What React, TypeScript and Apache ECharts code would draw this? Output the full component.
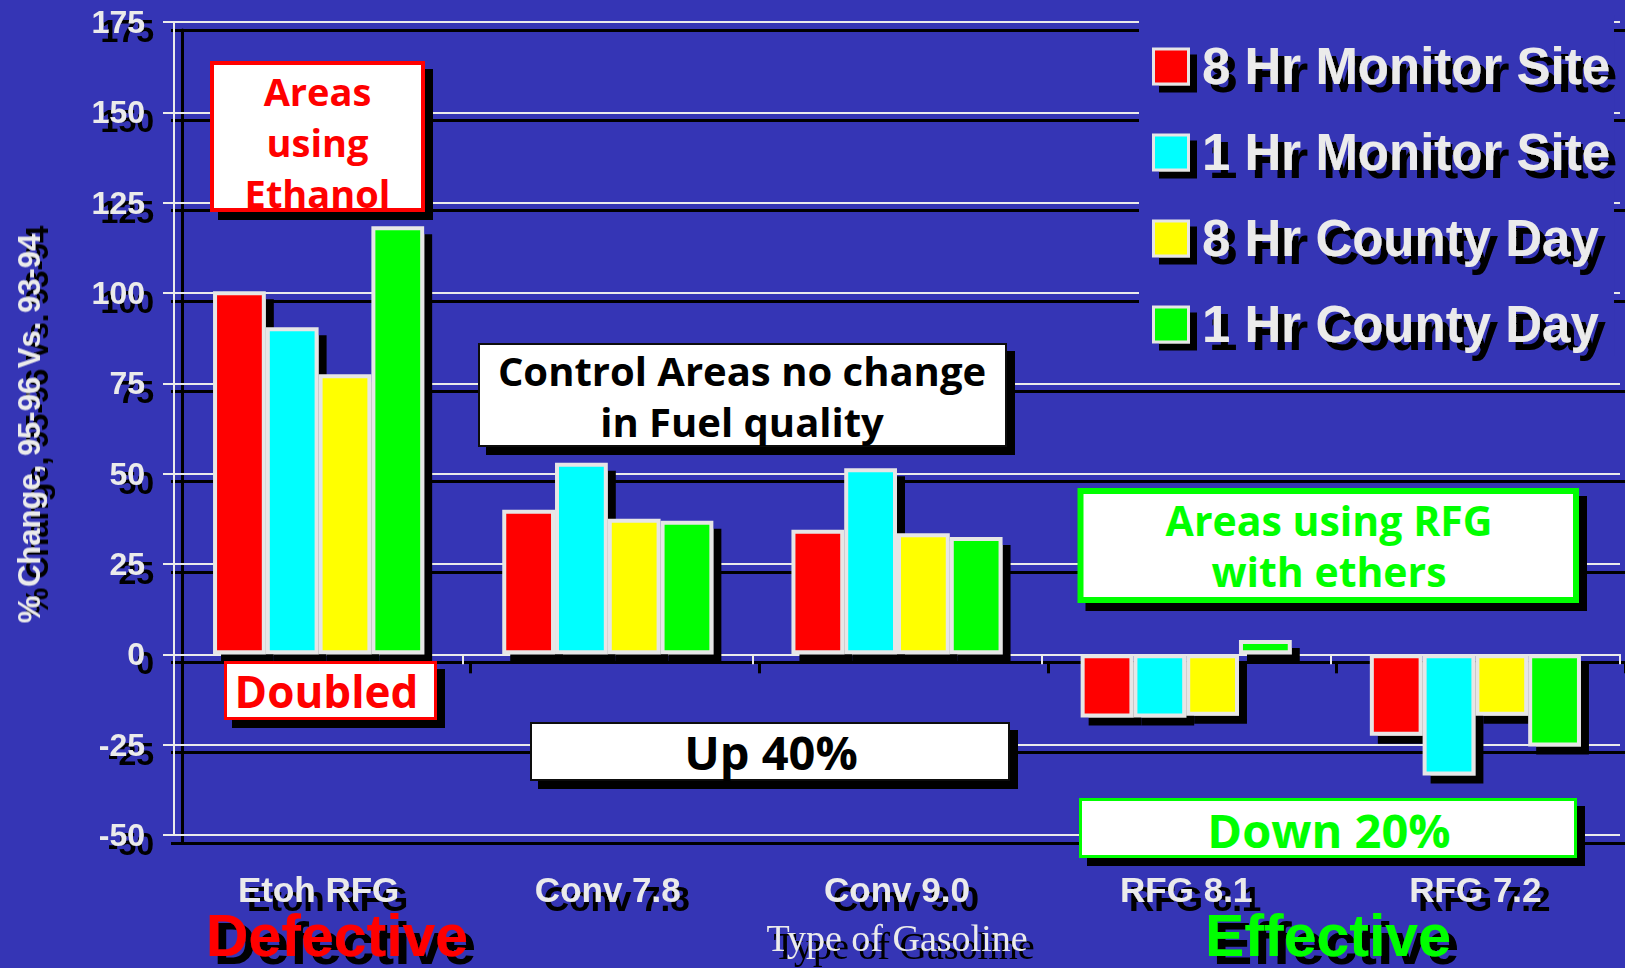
import React, { useEffect, useRef } from 'react';
import * as echarts from 'echarts';

// ---------- data ----------
const categories = ['Etoh RFG', 'Conv 7.8', 'Conv 9.0', 'RFG 8.1', 'RFG 7.2'];
const seriesNames = ['8 Hr Monitor Site', '1 Hr Monitor Site', '8 Hr County Day', '1 Hr County Day'];
const monitor8Hr = [100.5, 40, 34.5, -17.5, -22.5];
const monitor1Hr = [90.5, 53, 51.5, -17.5, -33.5];
const county8Hr = [77.5, 37.5, 33.5, -17, -17];
const county1Hr = [118.5, 37, 32.5, 4, -25.5];
const seriesColors = ['#FF0000', '#00FFFF', '#FFFF00', '#00FF00'];
const yMin = -50;
const yMax = 175;
const yStep = 25;
const yAxisTitle = '% Change, 95-96 Vs. 93-94';
const xAxisTitle = 'Type of Gasoline';

// ---------- style ----------
const BG = '#3535B5';
const LIGHT = '#EBEBEB';
const SANS = '"Liberation Sans", Arial, sans-serif';
const SERIF = '"Liberation Serif", "Times New Roman", serif';
const BOXFONT = '"Open Sans", "Liberation Sans", sans-serif';
const GRID = { left: 174, top: 22, width: 1446, height: 813 };
const SH = 8;

const textShadow = (dx: number, dy: number) => ({
  textShadowColor: '#000',
  textShadowBlur: 0.1,
  textShadowOffsetX: dx,
  textShadowOffsetY: dy,
});

function boxRect(x0: number, y0: number, x1: number, y1: number, stroke: string, lw: number) {
  return {
    type: 'rect',
    z: 100,
    shape: { x: x0 + lw / 2, y: y0 + lw / 2, width: x1 - x0 - lw, height: y1 - y0 - lw },
    style: {
      fill: '#FFFFFF',
      stroke,
      lineWidth: lw,
      shadowColor: '#000',
      shadowBlur: 0,
      shadowOffsetX: SH,
      shadowOffsetY: SH,
    },
    silent: true,
  };
}

function boxText(text: string, cx: number, cy: number, size: number, color: string, lineHeight: number) {
  return {
    type: 'text',
    z: 101,
    x: cx,
    y: cy,
    silent: true,
    style: {
      text,
      fill: color,
      fontSize: size,
      fontWeight: 'bold',
      fontFamily: BOXFONT,
      align: 'center',
      verticalAlign: 'middle',
      lineHeight,
    },
  };
}

function bigText(text: string, cx: number, cy: number, color: string) {
  return {
    type: 'text',
    z: 101,
    x: cx,
    y: cy,
    silent: true,
    style: {
      text,
      fill: color,
      fontSize: 59,
      fontWeight: 'bold',
      fontFamily: SANS,
      align: 'center',
      verticalAlign: 'middle',
      ...textShadow(8, 8),
    },
  };
}

const seriesData = [monitor8Hr, monitor1Hr, county8Hr, county1Hr];

export default function App() {
  const ref = useRef<HTMLDivElement>(null);
  useEffect(() => {
    document.body.style.margin = '0';
    document.body.style.background = BG;
    const chart = echarts.init(ref.current as HTMLDivElement, null, { renderer: 'svg' });
    const option: any = {
      animation: false,
      backgroundColor: BG,
      grid: [
        { ...GRID },
        { left: GRID.left + SH, top: GRID.top + SH, width: GRID.width, height: GRID.height },
      ],
      legend: {
        orient: 'vertical',
        left: 1139,
        top: 15,
        padding: [26, 4, 6, 13],
        backgroundColor: BG,
        itemWidth: 52,
        itemHeight: 35,
        itemGap: 35,
        icon: 'path://M0,0H10V10H0Z',
        selectedMode: false,
        data: seriesNames,
        itemStyle: {
          borderColor: '#E6E6E6',
          borderWidth: 3,
          shadowColor: '#000',
          shadowBlur: 0,
          shadowOffsetX: 7,
          shadowOffsetY: 7,
        },
        textStyle: {
          color: LIGHT,
          fontSize: 51,
          fontWeight: 'bold',
          fontFamily: SANS,
          lineHeight: 50,
          ...textShadow(7, 8),
        },
      },
      xAxis: [
        {
          type: 'category',
          gridIndex: 0,
          data: categories,
          position: 'bottom',
          z: 1,
          axisLine: { show: true, onZero: true, lineStyle: { color: LIGHT, width: 2 } },
          axisTick: { show: true, length: 10, lineStyle: { color: LIGHT, width: 2 } },
          axisLabel: { show: false },
          splitLine: { show: false },
        },
        {
          type: 'category',
          gridIndex: 0,
          data: categories,
          position: 'bottom',
          z: 1,
          axisLine: { show: false, onZero: false },
          axisTick: { show: false },
          splitLine: { show: false },
          axisLabel: {
            color: LIGHT,
            fontSize: 35,
            fontWeight: 'bold',
            fontFamily: SANS,
            margin: 37,
            ...textShadow(9, 9),
          },
          name: xAxisTitle,
          nameLocation: 'middle',
          nameGap: 84,
          nameTextStyle: {
            color: LIGHT,
            fontSize: 38,
            fontFamily: SERIF,
            ...textShadow(7, 8),
          },
        },
        {
          type: 'category',
          gridIndex: 1,
          data: categories,
          position: 'bottom',
          z: 0,
          axisLine: { show: true, onZero: true, lineStyle: { color: '#000', width: 3 } },
          axisTick: { show: true, length: 11, lineStyle: { color: '#000', width: 3 } },
          axisLabel: { show: false },
          splitLine: { show: false },
        },
      ],
      yAxis: [
        {
          type: 'value',
          gridIndex: 0,
          min: yMin,
          max: yMax,
          interval: yStep,
          z: 1,
          axisLine: { show: true, lineStyle: { color: LIGHT, width: 2 } },
          axisTick: { show: true, length: 11, lineStyle: { color: LIGHT, width: 2 } },
          splitLine: { show: true, lineStyle: { color: LIGHT, width: 2 } },
          axisLabel: {
            color: LIGHT,
            fontSize: 32,
            fontWeight: 'bold',
            fontFamily: SANS,
            margin: 29,
            ...textShadow(9, 9),
          },
          name: yAxisTitle,
          nameLocation: 'middle',
          nameRotate: 90,
          nameGap: 129,
          nameTextStyle: {
            color: LIGHT,
            fontSize: 31,
            fontWeight: 'bold',
            fontFamily: SANS,
            ...textShadow(8, 8),
          },
        },
        {
          type: 'value',
          gridIndex: 1,
          min: yMin,
          max: yMax,
          interval: yStep,
          z: 0,
          axisLine: { show: true, lineStyle: { color: '#000', width: 3 } },
          axisTick: { show: true, length: 11, lineStyle: { color: '#000', width: 3 } },
          splitLine: { show: true, lineStyle: { color: '#000', width: 3 } },
          axisLabel: { show: false },
        },
      ],
      series: seriesNames.map((name, i) => ({
        name,
        type: 'bar',
        xAxisIndex: 0,
        yAxisIndex: 0,
        data: seriesData[i],
        barGap: '0%',
        barCategoryGap: '27%',
        silent: true,
        emphasis: { disabled: true },
        itemStyle: {
          color: seriesColors[i],
          borderColor: '#E6E6E6',
          borderWidth: 4,
          shadowColor: '#000',
          shadowBlur: 0,
          shadowOffsetX: SH,
          shadowOffsetY: SH,
        },
      })),
      graphic: [
        boxRect(210, 61, 425, 212, '#FF0000', 4),
        boxText('Areas\nusing\nEthanol', 317.5, 141.5, 38, '#FF0000', 51),
        boxRect(224, 661, 437, 720, '#FF0000', 3),
        boxText('Doubled', 326.5, 690.5, 44, '#FF0000', 50),
        boxRect(478, 343, 1007, 447, '#111111', 2),
        boxText('Control Areas no change\nin Fuel quality', 742, 396, 40, '#000000', 51),
        boxRect(530, 722, 1010, 781, '#111111', 2),
        boxText('Up 40%', 771, 752, 47, '#000000', 50),
        boxRect(1077.5, 488, 1579, 603, '#00FF00', 6),
        boxText('Areas using RFG\nwith ethers', 1329, 545, 41, '#00FF00', 51),
        boxRect(1079, 798, 1577, 858, '#00FF00', 3),
        boxText('Down 20%', 1329, 829.5, 47, '#00FF00', 50),
        bigText('Defective', 337, 936, '#FF0000'),
        bigText('Effective', 1328, 936, '#00FF00'),
      ],
    };
    chart.setOption(option);
    return () => chart.dispose();
  }, []);
  return (
    <div
      ref={ref}
      style={{ position: 'absolute', left: 0, top: 0, width: 1625, height: 968, background: BG }}
    />
  );
}
